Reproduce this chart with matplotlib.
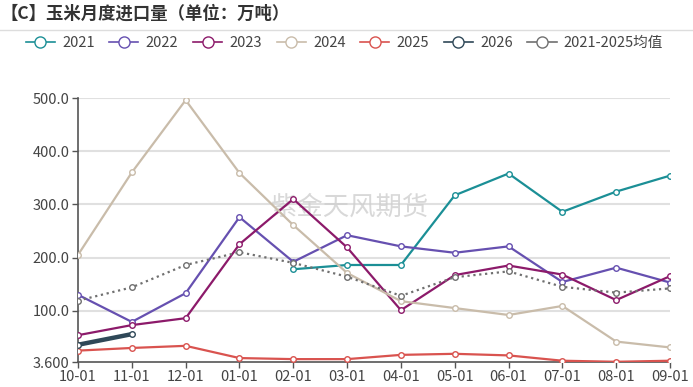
import matplotlib.pyplot as plt
from matplotlib.lines import Line2D

plt.rcParams["font.family"] = ["Noto Sans CJK SC", "DejaVu Sans"]

months = ["10-01", "11-01", "12-01", "01-01", "02-01", "03-01",
          "04-01", "05-01", "06-01", "07-01", "08-01", "09-01"]

y2021 = [None, None, None, None, 178, 186, 186, 317, 358, 286, 324, 354]
y2022 = [130, 79, 133, 276, 192, 242, 221, 209, 221, 154, 181, 153]
y2023 = [54, 73, 86, 225, 310, 219, 101, 167, 185, 168, 120, 165]
y2024 = [205, 360, 496, 359, 261, 171, 118, 105, 92, 109, 42, 31]
y2025 = [25, 30, 34, 11, 9, 9, 17, 19, 16, 6, 4, 6]
y2026 = [36, 56]
y_avg = [119, 144, 186, 210, 190, 164, 128, 163, 174, 145, 134, 142]

yticks = [3.6, 100, 200, 300, 400, 500]
ytick_labels = ["3.600", "100.0", "200.0", "300.0", "400.0", "500.0"]

W, H = 693, 387
fig = plt.figure(figsize=(W / 100, H / 100), dpi=100)
ax = fig.add_axes([78 / W, (H - 362) / H, (670 - 78) / W, (362 - 98) / H])

series = [
    ("2021", y2021, "#1b8f96", 1.6, "-"),
    ("2022", y2022, "#6650b0", 1.6, "-"),
    ("2023", y2023, "#8c1a6a", 1.6, "-"),
    ("2024", y2024, "#c9bcaa", 1.6, "-"),
    ("2025", y2025, "#d9534f", 1.6, "-"),
    ("2026", y2026, "#2f4858", 3.2, "-"),
    ("2021-2025均值", y_avg, "#707070", 1.6, ":"),
]

handles = []
for name, vals, color, lw, ls in series:
    xs = [i for i, v in enumerate(vals) if v is not None]
    ys = [v for v in vals if v is not None]
    ax.plot(xs, ys, color=color, lw=lw, ls=ls, marker="o", ms=4,
            mfc="white", mec=color, mew=1.0, zorder=3)
    handles.append(Line2D([], [], color=color, lw=1.2, marker="o", ms=8,
                          mfc="white", mec=color, mew=1.0))

ax.set_xlim(0, len(months) - 1)
ax.set_ylim(3.6, 500)
ax.set_xticks(range(len(months)))
ax.set_xticklabels(months, fontsize=10.5, color="#444444")
ax.set_yticks(yticks)
ax.set_yticklabels(ytick_labels, fontsize=10.5, color="#444444")
for v in yticks[1:]:
    ax.axhline(v, color="#e0e0e0", lw=1.5, zorder=1)

for s in ["top", "right"]:
    ax.spines[s].set_visible(False)
for s in ["left", "bottom"]:
    ax.spines[s].set_color("#555555")
    ax.spines[s].set_linewidth(1.2)
ax.tick_params(axis="both", color="#555555", length=4, width=1.0, pad=2)

ax.text(0.46, 0.585, "紫金天风期货", transform=ax.transAxes, fontsize=19,
        color="#cfcfcf", alpha=0.8, ha="center", va="center", zorder=2)

fig.text(0, 1 - 14 / H, "【C】玉米月度进口量（单位：万吨）", fontsize=12.5,
         fontweight="bold", color="#333333", va="center", ha="left")
fig.add_artist(Line2D([0, 1], [1 - 30 / H, 1 - 30 / H], color="#dddddd", lw=1))

fig.legend(handles, [s[0] for s in series], loc="center", ncol=7,
           bbox_to_anchor=(0.497, 1 - 43 / H), frameon=False, fontsize=10.5,
           handlelength=2.0, columnspacing=1.0, handletextpad=0.5,
           labelcolor="#444444")

fig.savefig("out.png", dpi=100)
